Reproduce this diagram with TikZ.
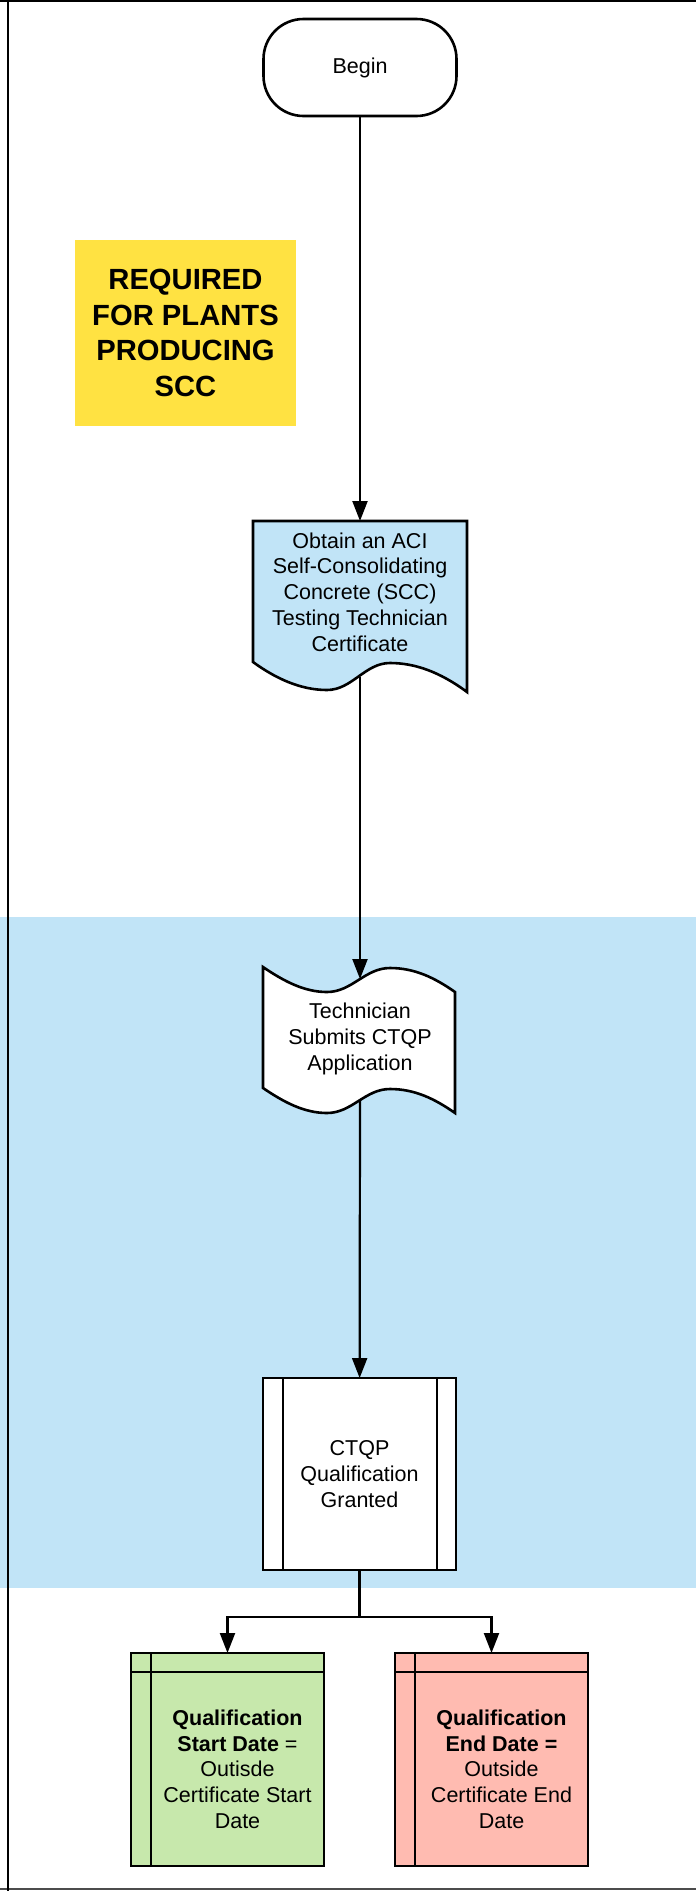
\documentclass[tikz,border=0pt]{standalone}
\usepackage{fontspec}
\setmainfont{Liberation Sans}
\usetikzlibrary{arrows.meta}
\definecolor{laneblue}{RGB}{193,228,247}
\definecolor{noteyellow}{RGB}{255,226,66}
\definecolor{startgreen}{RGB}{199,232,172}
\definecolor{endred}{RGB}{255,187,177}
\begin{document}
\begin{tikzpicture}[x=0.5pt, y=-0.5pt,
    box/.style={draw, line width=1.3pt, outer sep=0pt},
    txt/.style={align=center, inner sep=0pt, font=\fontsize{10.75}{12.85}\selectfont},
    flow/.style={line width=1.1pt, -{Triangle[length=10pt, width=7.5pt]}}]
  \useasboundingbox (0,0) rectangle (696,1891);
  \fill[laneblue] (0,917) rectangle (696,1588);
  \draw[line width=1pt] (0,1) -- (696,1);
  \draw[line width=0.8pt, black!70] (0,1889) -- (696,1889);
  \draw[line width=1.2pt] (8,0) -- (8,1891);

  \node[box, rounded corners=20pt, minimum width=96.5pt, minimum height=48.5pt, txt] (begin) at (360,67.5) {Begin};
  \node[fill=noteyellow, minimum width=110.5pt, minimum height=93pt, align=center, inner sep=0pt,
        font=\bfseries\fontsize{14.6}{17.85}\selectfont] (note) at (185.5,333) {REQUIRED\\FOR PLANTS\\PRODUCING\\SCC};

  \draw[box, fill=laneblue] (253,521) -- (467,521) -- (467,692)
    .. controls (440,672) and (415,663) .. (390,663)
    .. controls (365,663) and (352,690) .. (327,690)
    .. controls (300,690) and (275,678) .. (253,662) -- cycle;
  \node[txt] (obtain) at (360,592) {Obtain an ACI\\Self-Consolidating\\Concrete (SCC)\\Testing Technician\\Certificate};
  \coordinate (obtaintop) at (360,521);
  \coordinate (obtainbot) at (360,677);

  \draw[box, fill=white] (263,967)
    .. controls (285,982) and (305,992) .. (327,992)
    .. controls (352,992) and (365,968) .. (390,968)
    .. controls (415,968) and (435,978) .. (455,992)
    -- (455,1113)
    .. controls (435,1099) and (415,1089) .. (390,1089)
    .. controls (365,1089) and (352,1113) .. (327,1113)
    .. controls (305,1113) and (285,1103) .. (263,1088) -- cycle;
  \node[txt] (submit) at (360,1039) {Technician\\Submits CTQP\\Application};
  \coordinate (submittop) at (360,979);
  \coordinate (submitbot) at (360,1100);

  \node[box, fill=white, minimum width=96.5pt, minimum height=96pt, txt] (granted) at (359.5,1474) {CTQP\\Qualification\\Granted};
  \draw[box] ([xshift=10pt]granted.north west) -- ([xshift=10pt]granted.south west);
  \draw[box] ([xshift=-9.5pt]granted.north east) -- ([xshift=-9.5pt]granted.south east);

  \node[box, fill=startgreen, minimum width=96.5pt, minimum height=106.5pt] (start) at (227.5,1759.5) {};
  \draw[box] ([xshift=10pt]start.north west) -- ([xshift=10pt]start.south west);
  \draw[box] ([yshift=-9.5pt]start.north west) -- ([yshift=-9.5pt]start.north east);
  \node[txt] (starttext) at (237.5,1769) {\textbf{Qualification}\\\textbf{Start Date} =\\Outisde\\Certificate Start\\Date};

  \node[box, fill=endred, minimum width=96.5pt, minimum height=106.5pt] (end) at (491.5,1759.5) {};
  \draw[box] ([xshift=10pt]end.north west) -- ([xshift=10pt]end.south west);
  \draw[box] ([yshift=-9.5pt]end.north west) -- ([yshift=-9.5pt]end.north east);
  \node[txt] (endtext) at (501.5,1769) {\textbf{Qualification}\\\textbf{End Date =}\\Outside\\Certificate End\\Date};

  \coordinate (split) at (359.5,1617);
  \draw[flow] (begin) -- (obtaintop);
  \draw[flow] (obtainbot) -- (submittop);
  \draw[flow] (submitbot) -- (granted);
  \draw[line width=1.1pt] (granted) -- (split);
  \draw[flow] (split) -| (start);
  \draw[flow] (split) -| (end);
\end{tikzpicture}
\end{document}
